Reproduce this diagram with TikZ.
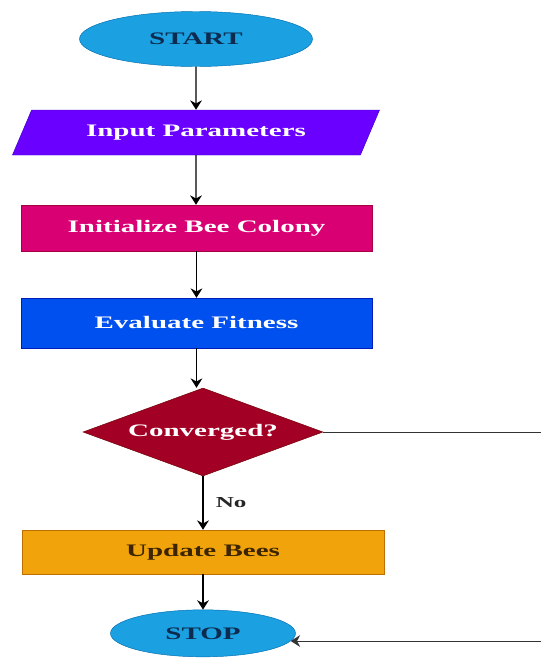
\documentclass[tikz,border=0pt]{standalone}
\usepackage{fontspec}
\setmainfont{Liberation Serif}
\usepackage{graphicx}
\usetikzlibrary{shapes.geometric,arrows.meta}

\definecolor{termblue}{HTML}{1BA1E2}
\definecolor{termline}{HTML}{006EAF}
\definecolor{inpurple}{HTML}{6A00FF}
\definecolor{inline}{HTML}{3700CC}
\definecolor{initpink}{HTML}{D80073}
\definecolor{initline}{HTML}{A50040}
\definecolor{evalblue}{HTML}{0050EF}
\definecolor{evalline}{HTML}{001DBC}
\definecolor{convred}{HTML}{A20025}
\definecolor{convline}{HTML}{6F0000}
\definecolor{updamber}{HTML}{F0A30A}
\definecolor{updline}{HTML}{BD7000}
\definecolor{navytext}{HTML}{0D2B4E}
\definecolor{browntext}{HTML}{3D2400}

\newcommand{\wtxt}[1]{\scalebox{1.65}[1]{\bfseries #1}}

\tikzset{
    terminal/.style={ellipse, draw=termline, fill=termblue, text=navytext, inner sep=0pt},
    procbox/.style={rectangle, inner sep=0pt, text=white},
    flow/.style={-{Stealth[length=8pt,width=10pt]}, line width=1.2pt},
}

\begin{document}
\begin{tikzpicture}[font=\fontsize{15}{18}\selectfont]
            \useasboundingbox (0,0) rectangle (16.23,-19.77);
            \node[terminal, minimum width=6.99cm, minimum height=1.65cm] (start) at (5.88,-1.17) {\wtxt{START}};
            \node[trapezium, trapezium left angle=50, trapezium right angle=130, trapezium stretches=true,
                draw=inline, fill=inpurple, text=white, inner sep=0pt,
                minimum width=11.04cm, minimum height=1.35cm] (input) at (5.88,-3.975) {\wtxt{Input Parameters}};
            \node[procbox, draw=initline, fill=initpink, minimum width=10.53cm, minimum height=1.38cm] (init) at (5.895,-6.84) {\wtxt{Initialize Bee Colony}};
            \node[procbox, draw=evalline, fill=evalblue, minimum width=10.53cm, minimum height=1.5cm] (eval) at (5.895,-9.69) {\wtxt{Evaluate Fitness}};
            \node[diamond, aspect=2.7, draw=convline, fill=convred, text=white, inner sep=0pt,
                minimum width=7.2cm, minimum height=2.64cm] (conv) at (6.09,-12.96) {\wtxt{Converged?}};
            \node[procbox, draw=updline, fill=updamber, text=browntext, minimum width=10.86cm, minimum height=1.32cm] (update) at (6.09,-16.56) {\wtxt{Update Bees}};
            \node[terminal, minimum width=5.55cm, minimum height=1.41cm] (stop) at (6.09,-19.0) {\wtxt{STOP}};
            \coordinate (turn) at (17,-12.96);

            \draw[flow] (start) -- (input);
            \draw[flow] (input) -- (input |- init.north);
            \draw[flow] (init) -- (eval);
            \draw[flow] (eval) -- (eval |- conv.north);
            \draw[flow] (conv) -- (update) node[pos=0.5, right=7pt, font=\fontsize{13}{15}\selectfont, text=black!85] (no) {\wtxt{No}};
            \draw[flow] (update) -- (stop);
            \draw[-{Stealth[length=8pt,width=10pt]}, line width=0.8pt, black!80] (conv.east) -- (turn) |- (stop.-5);
        \end{tikzpicture}
\end{document}
